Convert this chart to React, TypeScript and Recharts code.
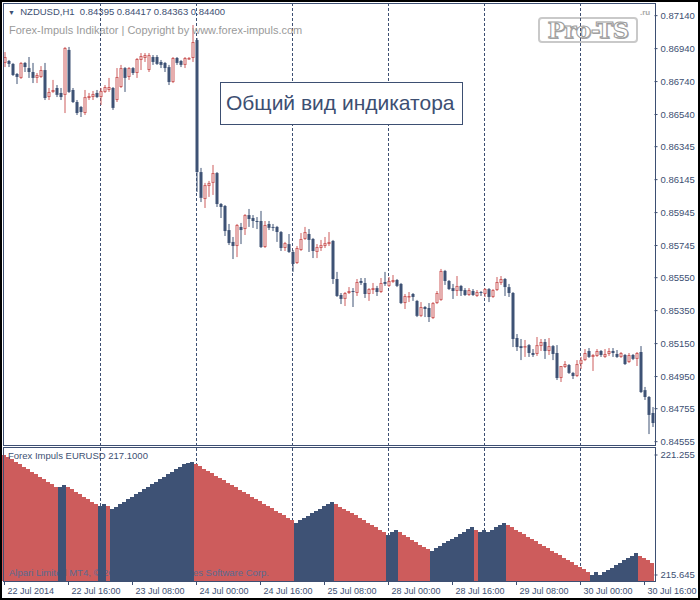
import React from "react";
import { ComposedChart, Bar, XAxis, YAxis, ReferenceLine } from "recharts";

const FONT = '"Liberation Sans", Arial, sans-serif';
const NAVY = "#3d4f72";
const BULL = "#cd5c5c";
const BEAR = "#3e5275";

// hourly bars, 22 Jul 00:00 .. 30 Jul 18:00 (weekend skipped)
const days = ["22 Jul", "23 Jul", "24 Jul", "25 Jul", "28 Jul", "29 Jul", "30 Jul"];
const hours = [
  "00:00", "01:00", "02:00", "03:00", "04:00", "05:00", "06:00", "07:00",
  "08:00", "09:00", "10:00", "11:00", "12:00", "13:00", "14:00", "15:00",
  "16:00", "17:00", "18:00", "19:00", "20:00", "21:00", "22:00", "23:00",
];
const times = days.flatMap((d) => hours.map((h) => `${d} ${h}`)).slice(0, 163);

const tickKeys = [
  "22 Jul 00:00", "22 Jul 16:00", "23 Jul 08:00", "24 Jul 00:00", "24 Jul 16:00", "25 Jul 08:00",
  "28 Jul 00:00", "28 Jul 16:00", "29 Jul 08:00", "30 Jul 00:00", "30 Jul 16:00",
];
const tickLabels = [
  "22 Jul 2014", "22 Jul 16:00", "23 Jul 08:00", "24 Jul 00:00", "24 Jul 16:00", "25 Jul 08:00",
  "28 Jul 00:00", "28 Jul 16:00", "29 Jul 08:00", "30 Jul 00:00", "30 Jul 16:00",
];
const separators = ["23 Jul 00:00", "24 Jul 00:00", "25 Jul 00:00", "28 Jul 00:00", "29 Jul 00:00", "30 Jul 00:00"];

const priceTicks = [
  0.8714, 0.8694, 0.8674, 0.8654, 0.86345, 0.86145, 0.85945, 0.85745,
  0.8555, 0.8535, 0.8515, 0.8495, 0.84755, 0.84555,
];
const impulseTicks = [215.645, 221.255];

const opens = [
  0.86853, 0.86865, 0.86847, 0.86786, 0.86762, 0.86853, 0.86822, 0.86798, 0.86762, 0.86768, 0.8681, 0.86646,
  0.86677, 0.86701, 0.86671, 0.86659, 0.86932, 0.86689, 0.86616, 0.86586, 0.86549, 0.8664, 0.86646, 0.86671,
  0.86646, 0.86677, 0.86689, 0.86701, 0.86628, 0.86707, 0.86822, 0.86768, 0.86822, 0.86792, 0.86871, 0.86883,
  0.8681, 0.86889, 0.86889, 0.86859, 0.86853, 0.86828, 0.86737, 0.86883, 0.86865, 0.86841, 0.86877, 0.86883,
  0.86992, 0.86191, 0.86027, 0.86106, 0.86125, 0.86185, 0.85997, 0.85985, 0.85839, 0.85767, 0.85742, 0.85858,
  0.85845, 0.8593, 0.85912, 0.85894, 0.85894, 0.85736, 0.85876, 0.85858, 0.85858, 0.85827, 0.8573, 0.85754,
  0.85706, 0.85639, 0.85718, 0.85785, 0.85815, 0.85785, 0.85706, 0.8573, 0.85742, 0.85754, 0.85773, 0.85542,
  0.85445, 0.85421, 0.85457, 0.85469, 0.85457, 0.8553, 0.85518, 0.85451, 0.85475, 0.85487, 0.85463, 0.85524,
  0.855, 0.85524, 0.85536, 0.85512, 0.85396, 0.85433, 0.85451, 0.85409, 0.85318, 0.85372, 0.85366, 0.85305,
  0.85396, 0.85415, 0.85591, 0.8553, 0.85487, 0.85469, 0.855, 0.85475, 0.85445, 0.85469, 0.85439, 0.85463,
  0.85451, 0.85481, 0.85433, 0.85475, 0.85518, 0.85542, 0.85493, 0.85457, 0.85184, 0.85135, 0.85129, 0.85141,
  0.85093, 0.85087, 0.85135, 0.8516, 0.85105, 0.85135, 0.85093, 0.84941, 0.85008, 0.8502, 0.84972, 0.84953,
  0.85026, 0.8505, 0.85105, 0.85069, 0.85075, 0.85105, 0.85069, 0.85087, 0.85105, 0.85087, 0.85069, 0.85081,
  0.85038, 0.85081, 0.85057, 0.85099, 0.84868, 0.84826, 0.84729,
];
const highs = [
  0.86919, 0.86871, 0.86853, 0.86792, 0.86859, 0.86859, 0.86889, 0.86853, 0.86792, 0.86834, 0.86853, 0.86701,
  0.8675, 0.86719, 0.86701, 0.8695, 0.8695, 0.86701, 0.86628, 0.86592, 0.86689, 0.86671, 0.86683, 0.86689,
  0.86701, 0.86719, 0.86762, 0.86707, 0.86822, 0.86841, 0.86828, 0.86828, 0.86828, 0.86883, 0.86913, 0.86913,
  0.86913, 0.86901, 0.86901, 0.86871, 0.86859, 0.86841, 0.86889, 0.86889, 0.86871, 0.86889, 0.86889, 0.87083,
  0.87004, 0.86216, 0.86125, 0.86137, 0.86234, 0.86191, 0.86003, 0.85991, 0.85876, 0.85797, 0.85876, 0.85882,
  0.85936, 0.85967, 0.8593, 0.85918, 0.85955, 0.85894, 0.85894, 0.85876, 0.85864, 0.85833, 0.85767, 0.85815,
  0.85718, 0.85742, 0.85821, 0.85858, 0.85845, 0.85791, 0.85754, 0.85779, 0.85797, 0.85827, 0.85779, 0.85585,
  0.85457, 0.85463, 0.85493, 0.85487, 0.85542, 0.85548, 0.85548, 0.85487, 0.85518, 0.855, 0.85548, 0.85585,
  0.85554, 0.85566, 0.85542, 0.85518, 0.85451, 0.85463, 0.85457, 0.85415, 0.85402, 0.85378, 0.85396, 0.85402,
  0.85469, 0.85603, 0.85597, 0.85536, 0.85512, 0.8556, 0.85506, 0.85487, 0.85487, 0.85481, 0.85475, 0.85469,
  0.85487, 0.85487, 0.85481, 0.85554, 0.8556, 0.85548, 0.85512, 0.85463, 0.85208, 0.85178, 0.85172, 0.85147,
  0.85117, 0.8519, 0.85178, 0.85178, 0.85184, 0.85141, 0.85141, 0.85014, 0.85044, 0.85026, 0.84978, 0.8505,
  0.85069, 0.85117, 0.85123, 0.85087, 0.85117, 0.85111, 0.85117, 0.85123, 0.85123, 0.85111, 0.85099, 0.85087,
  0.85093, 0.85087, 0.85099, 0.85135, 0.84887, 0.84832, 0.84765,
];
const lows = [
  0.86828, 0.86828, 0.86774, 0.86725, 0.86756, 0.86798, 0.86762, 0.86731, 0.86731, 0.86762, 0.86628, 0.86628,
  0.86671, 0.86646, 0.86628, 0.86549, 0.86671, 0.8661, 0.86537, 0.86525, 0.86537, 0.86628, 0.86628, 0.8664,
  0.86598, 0.86671, 0.86677, 0.86568, 0.86616, 0.86701, 0.86677, 0.8675, 0.8678, 0.86762, 0.8681, 0.86859,
  0.86798, 0.86841, 0.86841, 0.86822, 0.86798, 0.86719, 0.86731, 0.86841, 0.86828, 0.86822, 0.86871, 0.86859,
  0.8607, 0.86009, 0.85973, 0.8604, 0.86052, 0.85979, 0.85912, 0.85803, 0.85748, 0.85663, 0.85675, 0.85754,
  0.85809, 0.85858, 0.85852, 0.85845, 0.8573, 0.8573, 0.85839, 0.85833, 0.85767, 0.85712, 0.85712, 0.857,
  0.85585, 0.85633, 0.85712, 0.85779, 0.85706, 0.85669, 0.85669, 0.85712, 0.8573, 0.85742, 0.85512, 0.85433,
  0.8539, 0.85378, 0.85451, 0.85372, 0.85439, 0.85506, 0.85427, 0.85409, 0.85451, 0.85439, 0.85457, 0.855,
  0.85494, 0.85518, 0.85493, 0.8539, 0.8536, 0.85402, 0.85409, 0.85311, 0.85311, 0.85311, 0.85281, 0.85299,
  0.8539, 0.85409, 0.85506, 0.85475, 0.85421, 0.85439, 0.85439, 0.85439, 0.85439, 0.85439, 0.85433, 0.85439,
  0.85433, 0.85402, 0.85427, 0.85469, 0.85506, 0.85439, 0.85433, 0.85129, 0.85105, 0.8505, 0.85069, 0.85069,
  0.85069, 0.85075, 0.85105, 0.85057, 0.85081, 0.8505, 0.84929, 0.84917, 0.85002, 0.84966, 0.84935, 0.84947,
  0.84996, 0.85044, 0.85063, 0.84984, 0.85069, 0.85069, 0.85063, 0.85075, 0.85069, 0.85063, 0.85063, 0.8502,
  0.85032, 0.8505, 0.85014, 0.8485, 0.84808, 0.84601, 0.84644,
];
const closes = [
  0.86889, 0.86847, 0.8678, 0.86768, 0.86853, 0.86828, 0.86798, 0.86762, 0.8678, 0.8681, 0.8664, 0.86677,
  0.86689, 0.86659, 0.86646, 0.86944, 0.86677, 0.86616, 0.86549, 0.86555, 0.86646, 0.86652, 0.86665, 0.86646,
  0.86683, 0.86707, 0.86707, 0.8658, 0.86768, 0.86822, 0.86762, 0.86822, 0.86792, 0.86877, 0.86895, 0.86901,
  0.86901, 0.86859, 0.86847, 0.86841, 0.86822, 0.86737, 0.86883, 0.86853, 0.86841, 0.86883, 0.86883, 0.8698,
  0.86191, 0.86034, 0.86112, 0.86125, 0.86185, 0.85997, 0.85979, 0.85833, 0.8576, 0.85742, 0.8587, 0.85839,
  0.8593, 0.85906, 0.85894, 0.85888, 0.85736, 0.8587, 0.85852, 0.85852, 0.85827, 0.8573, 0.8576, 0.85706,
  0.85633, 0.8573, 0.85785, 0.85827, 0.85779, 0.85712, 0.85736, 0.85748, 0.8576, 0.85767, 0.85542, 0.85439,
  0.85421, 0.85457, 0.85469, 0.85463, 0.85524, 0.85518, 0.85451, 0.85481, 0.85487, 0.85463, 0.85518, 0.85512,
  0.8553, 0.85536, 0.855, 0.85396, 0.85439, 0.85439, 0.85433, 0.85318, 0.85372, 0.8536, 0.85311, 0.85396,
  0.85457, 0.85591, 0.8553, 0.85481, 0.85469, 0.855, 0.85469, 0.85445, 0.85475, 0.85445, 0.85463, 0.85457,
  0.85481, 0.85433, 0.85475, 0.85524, 0.85542, 0.85493, 0.85457, 0.85178, 0.85129, 0.85123, 0.85135, 0.85093,
  0.85081, 0.85141, 0.8516, 0.85105, 0.85135, 0.85087, 0.84941, 0.85014, 0.85026, 0.84972, 0.84953, 0.85026,
  0.8505, 0.85093, 0.85069, 0.85081, 0.85105, 0.85081, 0.85087, 0.85105, 0.85093, 0.85069, 0.85093, 0.85026,
  0.85081, 0.85057, 0.85093, 0.84856, 0.84826, 0.84717, 0.84668,
];

// Forex Impuls histogram (EURUSD), value per bar and its colour (r = falling, b = rising)
const impulse = [
  221.255, 221.146, 221.052, 220.943, 220.834, 220.71, 220.6, 220.476, 220.351, 220.242, 220.117, 220.008,
  219.899, 219.775, 219.775, 219.852, 219.775, 219.65, 219.541, 219.432, 219.307, 219.198, 219.073, 218.964,
  218.886, 218.964, 218.886, 218.73, 218.84, 218.964, 219.073, 219.198, 219.307, 219.432, 219.541, 219.65,
  219.775, 219.899, 220.008, 220.133, 220.242, 220.367, 220.476, 220.585, 220.71, 220.819, 220.897, 220.928,
  220.834, 220.725, 220.616, 220.507, 220.398, 220.289, 220.18, 220.071, 219.962, 219.852, 219.743, 219.634,
  219.525, 219.416, 219.307, 219.198, 219.089, 218.98, 218.871, 218.762, 218.653, 218.543, 218.434, 218.325,
  218.216, 218.092, 218.201, 218.31, 218.419, 218.528, 218.637, 218.746, 218.855, 218.964, 219.042, 218.964,
  218.84, 218.73, 218.637, 218.559, 218.45, 218.325, 218.216, 218.092, 217.982, 217.873, 217.749, 217.64,
  217.515, 217.64, 217.749, 217.64, 217.515, 217.406, 217.281, 217.172, 217.063, 216.954, 216.845, 216.782,
  216.892, 217.001, 217.125, 217.234, 217.344, 217.437, 217.546, 217.655, 217.78, 217.873, 217.749, 217.64,
  217.749, 217.64, 217.749, 217.873, 217.982, 218.076, 217.982, 217.873, 217.764, 217.655, 217.546, 217.437,
  217.328, 217.219, 217.11, 217.001, 216.892, 216.782, 216.673, 216.564, 216.455, 216.346, 216.237, 216.128,
  216.019, 215.91, 215.801, 215.645, 215.77, 215.645, 215.77, 215.879, 215.988, 216.112, 216.221, 216.331,
  216.44, 216.549, 216.673, 216.549, 216.44, 216.331, 216.206,
];
const impulseColor = (
  "rrrrrrrrrrrrrr" + "bb" + "rrrrrrrr" + "bb" + "r" + "bbbbbbbbbbbbbbbbbbbbb" +
  "rrrrrrrrrrrrrrrrrrrrrrrrr" + "bbbbbbbbbb" + "rrrrrrrrrrrrr" + "bbb" + "rrrrrrrr" +
  "bbbbbbbbbbb" + "r" + "bbbbbbb" + "rrrrrrrrrrrrrrrrrrrrr" + "bbbbbbbbbbbb" + "rrrr"
).split("");

const candles = times.map((t, i) => ({
  t,
  o: opens[i],
  h: highs[i],
  l: lows[i],
  c: closes[i],
  range: [lows[i], highs[i]],
}));

const impulseRows = times.map((t, i) => ({
  t,
  red: impulseColor[i] === "r" ? impulse[i] : null,
  blue: impulseColor[i] === "b" ? impulse[i] : null,
}));

function Candle(props: any) {
  const { x, y, width, height, payload } = props;
  if (!payload || width == null || y == null) return null;
  const { o, h, l, c } = payload;
  const top = Math.min(y, y + height);
  const span = Math.abs(height);
  const k = span / (h - l || 1);
  const yOf = (v: number) => top + (h - v) * k;
  const cx = x + width / 2;
  const y1 = Math.min(yOf(o), yOf(c));
  const y2 = Math.max(yOf(o), yOf(c));
  const bh = Math.max(y2 - y1, 1);
  const up = c >= o;
  const col = up ? BULL : BEAR;
  return (
    <g>
      <line x1={cx} x2={cx} y1={top} y2={y1} stroke={col} />
      <line x1={cx} x2={cx} y1={y1 + bh} y2={top + span} stroke={col} />
      {up ? (
        <rect x={x + 0.5} y={y1 + 0.5} width={width - 1} height={Math.max(bh - 1, 0.5)} fill="#fff" stroke={col} />
      ) : (
        <rect x={x} y={y1} width={width} height={bh} fill={col} />
      )}
    </g>
  );
}

// histogram column snapped to whole pixels so neighbours join without seams
function Column(props: any) {
  const { x, y, width, height, fill } = props;
  if (x == null || y == null || !height) return null;
  const left = Math.round(x - 0.5);
  const right = Math.round(x - 0.5 + width);
  return <rect x={left} y={Math.round(y)} width={right - left} height={Math.round(y + height) - Math.round(y)} fill={fill} shapeRendering="crispEdges" />;
}

function TimeTick(props: any) {
  const { x, y, payload } = props;
  const label = tickLabels[tickKeys.indexOf(payload.value)];
  return (
    <text x={x + 3} y={y + 7} fill={NAVY} fontSize={9} fontFamily={FONT} textAnchor="start">
      {label}
    </text>
  );
}

const axisTick = { fontSize: 9.5, fill: NAVY, fontFamily: FONT };
const pos = (left: number, top: number): React.CSSProperties => ({ position: "absolute", left, top });

export default function App() {
  return (
    <div style={{ position: "absolute", left: 0, top: 0, width: 700, height: 600, background: "#fff", overflow: "hidden", fontFamily: FONT }}>
      {/* Pro-TS logo */}
      <div style={{ ...pos(538, 17), width: 100, height: 26, boxSizing: "border-box", border: "2px solid #c9c9c9", borderRadius: 4, textAlign: "center", lineHeight: "22px", fontSize: 23, fontWeight: 900, fontFamily: '"DejaVu Serif", serif', letterSpacing: -0.5, color: "#fff", WebkitTextStroke: "1px #9b9b9b", textShadow: "1px 1px 0 #aaa" }}>
        Pro-TS
      </div>
      <div style={{ ...pos(640, 8), fontSize: 8, fontWeight: 700, color: "#aaa" }}>.ru</div>

      {/* day separators across both panels */}
      <div style={pos(0, 0)}>
        <ComposedChart width={700} height={600} data={candles} margin={{ top: 4, right: 45.5, bottom: 19, left: 2.5 }} barCategoryGap={0}>
          <XAxis dataKey="t" hide />
          <YAxis hide domain={[0.8, 0.9]} allowDataOverflow />
          <Bar dataKey="h" fill="none" stroke="none" barSize={1} isAnimationActive={false} />
          {separators.map((s) => (
            <ReferenceLine key={s} x={s} stroke={NAVY} strokeDasharray="3 2" />
          ))}
        </ComposedChart>
      </div>

      {/* price chart */}
      <div style={pos(0, 0)}>
        <ComposedChart width={700} height={446} data={candles} margin={{ top: 4, right: 0, bottom: 1, left: 2.5 }} barCategoryGap={0} barGap={0}>
          <XAxis dataKey="t" hide />
          <YAxis
            orientation="right"
            width={45.5}
            domain={[0.845347, 0.872107]}
            allowDataOverflow
            ticks={priceTicks}
            interval={0}
            tickFormatter={(v: number) => v.toFixed(5)}
            tick={axisTick}
            tickLine={{ stroke: NAVY }}
            tickSize={3}
            tickMargin={3}
            axisLine={false}
          />
          <Bar dataKey="range" barSize={3} shape={<Candle />} isAnimationActive={false} />
        </ComposedChart>
      </div>

      {/* indicator: falling (red) columns */}
      <div style={pos(0, 440)}>
        <ComposedChart width={700} height={160} data={impulseRows} margin={{ top: 8, right: 45.5, bottom: 19, left: 2.5 }} barCategoryGap={0} barGap={0}>
          <XAxis dataKey="t" hide />
          <YAxis hide domain={[215.3644, 221.5823]} allowDataOverflow />
          <Bar dataKey="red" fill={BULL} barSize={4} shape={<Column />} isAnimationActive={false} />
        </ComposedChart>
      </div>

      <div style={{ ...pos(9, 567), fontSize: 9.5, color: "#5a6a90", whiteSpace: "nowrap" }}>
        Alpari Limited MT4, © 2001-2014 MetaQuotes Software Corp.
      </div>

      {/* indicator: rising (blue) columns and axes */}
      <div style={pos(0, 440)}>
        <ComposedChart width={700} height={160} data={impulseRows} margin={{ top: 8, right: 0, bottom: 0, left: 2.5 }} barCategoryGap={0} barGap={0}>
          <XAxis
            dataKey="t"
            height={19}
            ticks={tickKeys}
            interval={0}
            tick={<TimeTick />}
            tickLine={{ stroke: NAVY }}
            tickSize={4}
            tickMargin={2}
            axisLine={false}
          />
          <YAxis
            orientation="right"
            width={45.5}
            domain={[215.3644, 221.5823]}
            allowDataOverflow
            ticks={impulseTicks}
            interval={0}
            tickFormatter={(v: number) => v.toFixed(3)}
            tick={axisTick}
            tickLine={{ stroke: NAVY }}
            tickSize={3}
            tickMargin={3}
            axisLine={false}
          />
          <Bar dataKey="blue" fill={BEAR} barSize={4} shape={<Column />} isAnimationActive={false} />
        </ComposedChart>
      </div>

      {/* panel frames */}
      <div style={{ ...pos(3, 3), width: 653, height: 443, boxSizing: "border-box", border: `1px solid ${NAVY}` }} />
      <div style={{ ...pos(3, 447), width: 653, height: 135, boxSizing: "border-box", border: `1px solid ${NAVY}` }} />

      {/* texts */}
      <div style={{ ...pos(8, 6), fontSize: 9.5, color: NAVY, whiteSpace: "pre" }}>
        <span style={{ fontSize: 7 }}>▼</span>  NZDUSD,H1  0.84395 0.84417 0.84363 0.84400
      </div>
      <div style={{ ...pos(9, 24), fontSize: 11, color: "#9a9a9a", whiteSpace: "nowrap" }}>
        Forex-Impuls Indikator | Copyright by www.forex-impuls.com
      </div>
      <div style={{ ...pos(220, 82), width: 243, height: 43, boxSizing: "border-box", border: `1.5px solid ${NAVY}`, background: "#fff", color: NAVY, fontSize: 21, lineHeight: "40px", paddingLeft: 5, whiteSpace: "nowrap" }}>
        Общий вид индикатора
      </div>
      <div style={{ ...pos(8, 450), fontSize: 9.5, color: NAVY, whiteSpace: "nowrap" }}>Forex Impuls EURUSD 217.1000</div>

      <div style={{ ...pos(0, 0), width: 700, height: 600, boxSizing: "border-box", border: "2px solid #000" }} />
    </div>
  );
}
